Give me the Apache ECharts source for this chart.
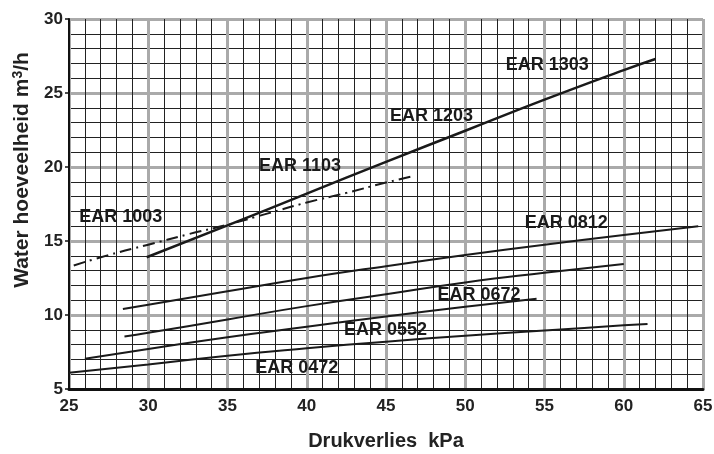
<!DOCTYPE html>
<html>
<head>
<meta charset="utf-8">
<script src="https://cdn.jsdelivr.net/npm/echarts@6/dist/echarts.min.js"></script>
<style>html,body{margin:0;padding:0;background:#fff;}#c{width:714px;height:454px;}</style>
</head>
<body>
<div id="c"></div>
<script>
// Data (x = Drukverlies kPa, y = Water hoeveelheid m3/h)
const ear1103_1303 = [[29.9,13.9],[35,16.05],[40,18.2],[45,20.35],[50,22.45],[55,24.55],[60,26.55],[62,27.3]];
const ear1003 = [[25.3,13.35],[27.5,14.05],[30,14.75],[32.5,15.45],[35,16.1],[37.5,16.85],[40,17.6],[42.5,18.25],[45,18.95],[46.6,19.35]];
const ear0812 = [[28.4,10.4],[30,10.7],[35,11.6],[40,12.5],[45,13.3],[50,14.05],[55,14.75],[60,15.4],[64.7,16.0]];
const ear0672 = [[28.5,8.55],[30,8.8],[35,9.7],[40,10.6],[45,11.4],[50,12.2],[55,12.85],[60,13.45]];
const ear0552 = [[26,7.05],[30,7.7],[35,8.5],[40,9.2],[45,9.9],[50,10.55],[54.5,11.1]];
const ear0472 = [[25,6.1],[30,6.65],[35,7.25],[40,7.75],[45,8.2],[50,8.6],[55,8.95],[60,9.3],[61.5,9.4]];
const labels = [
  [55.2,26.85,'EAR 1303'],
  [47.9,23.4,'EAR 1203'],
  [39.6,20.0,'EAR 1103'],
  [28.3,16.6,'EAR 1003'],
  [56.4,16.15,'EAR 0812'],
  [50.9,11.3,'EAR 0672'],
  [45.0,8.95,'EAR 0552'],
  [39.4,6.4,'EAR 0472']
];
const xTicks = [25,65,5];
const yTicks = [5,30,5];

const font = '"Liberation Sans", Arial, sans-serif';
const chart = echarts.init(document.getElementById('c'), null, {renderer:'canvas'});
const lineSeries = (data, dash, w) => ({
  type:'line', data, showSymbol:false, symbol:'none', smooth:true, silent:true,
  lineStyle:{color:'#1a1a1a', width:w, type:dash}, z:5
});
chart.setOption({
  animation:false,
  backgroundColor:'#fff',
  grid:{left:69, right:11, top:19, bottom:65, containLabel:false, outerBoundsMode:'none'},
  xAxis:{
    type:'value', min:xTicks[0], max:xTicks[1], interval:xTicks[2],
    name:'Drukverlies  kPa', nameLocation:'middle', nameGap:42,
    nameTextStyle:{fontFamily:font, fontWeight:'bold', fontSize:20, color:'#222'},
    axisLine:{show:true, onZero:false, lineStyle:{color:'#111', width:3}},
    axisTick:{show:false},
    axisLabel:{fontFamily:font, fontWeight:'bold', fontSize:17, color:'#222', margin:9},
    splitLine:{show:true, lineStyle:{color:'#aaaaaa', width:3}},
    minorTick:{show:false, splitNumber:5},
    minorSplitLine:{show:true, lineStyle:{color:'#222', width:1}}
  },
  yAxis:{
    type:'value', min:yTicks[0], max:yTicks[1], interval:yTicks[2],
    name:'Water hoeveelheid m{sup|3}/h', nameLocation:'middle', nameGap:29,
    nameTextStyle:{fontFamily:font, fontWeight:'bold', fontSize:21, color:'#222', padding:[0,0,0,68],
      rich:{sup:{fontFamily:font, fontWeight:'bold', fontSize:14, color:'#222', verticalAlign:'bottom', padding:[0,0,10,0]}}},
    axisLine:{show:true, onZero:false, lineStyle:{color:'#111', width:2}},
    axisTick:{show:true, length:4, lineStyle:{color:'#111', width:1.5}},
    axisLabel:{fontFamily:font, fontWeight:'bold', fontSize:17, color:'#222', margin:6},
    splitLine:{show:true, lineStyle:{color:'#aaaaaa', width:3}},
    minorTick:{show:false, splitNumber:5},
    minorSplitLine:{show:true, lineStyle:{color:'#222', width:1}}
  },
  series:[
    lineSeries(ear1103_1303,'solid',2.5),
    lineSeries(ear1003,[12,5,2,5],2),
    lineSeries(ear0812,'solid',2),
    lineSeries(ear0672,'solid',2),
    lineSeries(ear0552,'solid',2),
    lineSeries(ear0472,'solid',2),
    {
      type:'scatter', data:labels, symbolSize:1, itemStyle:{color:'rgba(0,0,0,0)', opacity:1}, silent:true, z:6,
      label:{show:true, position:[0,0], align:'center', verticalAlign:'middle', formatter:p=>p.data[2],
        opacity:1, textBorderWidth:0,
        fontFamily:font, fontWeight:'bold', fontSize:18, color:'#1a1a1a'}
    }
  ]
});
</script>
</body>
</html>
